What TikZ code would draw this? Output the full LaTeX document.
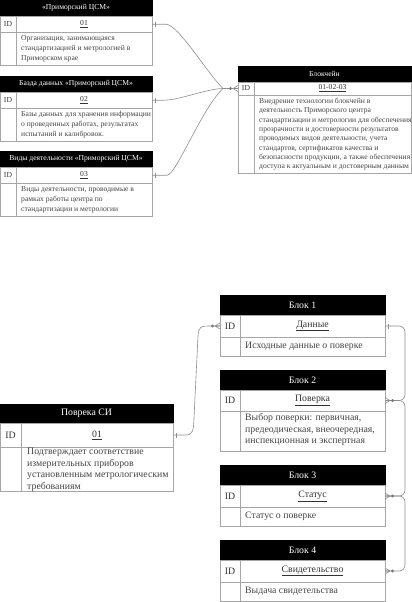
\documentclass[tikz,border=0pt]{standalone}
\usepackage{fontspec}
\setmainfont{Liberation Serif}
\definecolor{bordc}{HTML}{A6A6A6}
\definecolor{linec}{HTML}{8E8E8E}
\definecolor{dotc}{HTML}{7A7A7A}
\definecolor{txtc}{HTML}{333333}
\definecolor{dtxt}{HTML}{444444}
\newcommand\topf{\fontsize{7.6}{10}\selectfont}
\newcommand\topg{\fontsize{7.6}{9.3}\selectfont}
\newcommand\botf{\fontsize{9.8}{11.6}\selectfont}
\newcommand\manyW[1]{\draw[conn] ([xshift=-5]#1) -- ([yshift=3]#1) ([xshift=-5]#1) -- ([yshift=-3]#1) ([xshift=-5]#1) -- (#1); \fill[dotc] ([xshift=-7.5]#1) circle (1.7);}
\newcommand\manyE[1]{\draw[conn] ([xshift=5]#1) -- ([yshift=3]#1) ([xshift=5]#1) -- ([yshift=-3]#1) ([xshift=5]#1) -- (#1); \fill[dotc] ([xshift=7.5]#1) circle (1.7);}
\newcommand\oneE[1]{\draw[conn] ([xshift=3,yshift=2.5]#1) -- ([xshift=3,yshift=-2.5]#1);}
\tikzset{
  hdr/.style={fill=black, draw=black, text=white, inner sep=0, outer sep=0, anchor=north west},
  cell/.style={draw=bordc, line width=0.6pt, inner sep=0, outer sep=0, anchor=north west, text=txtc},
  dsc/.style={inner sep=0, anchor=north west, align=left, text=dtxt},
  conn/.style={draw=linec, line width=0.6pt},
}
\begin{document}
\begin{tikzpicture}[x=1pt,y=-1pt]
\useasboundingbox (0,0) rectangle (412,602);
% ---------- top tables ----------
\node[hdr, font=\topf, minimum width=152, minimum height=16] (t1h) at (0,0) {«Приморский ЦСМ»};
\node[cell, font=\topf, minimum width=16, minimum height=16.5] (t1i) at (t1h.south west) {ID};
\node[cell, font=\topf, minimum width=136, minimum height=16.5] (t1t) at (t1i.north east) {\underline{01}};
\node[cell, minimum width=16, minimum height=33] (t1b) at (t1i.south west) {};
\node[cell, minimum width=136, minimum height=33] (t1d) at (t1b.north east) {};
\node[dsc, font=\topf] (t1x) at ([xshift=5,yshift=-3]t1d.north west) {Организация, занимающаяся\\стандартизацией и метрологией в\\Приморском крае};

\node[hdr, font=\topf, minimum width=152, minimum height=16] (t2h) at (0,76) {Базда данных «Приморский ЦСМ»};
\node[cell, font=\topf, minimum width=16, minimum height=16.5] (t2i) at (t2h.south west) {ID};
\node[cell, font=\topf, minimum width=136, minimum height=16.5] (t2t) at (t2i.north east) {\underline{02}};
\node[cell, minimum width=16, minimum height=33] (t2b) at (t2i.south west) {};
\node[cell, minimum width=136, minimum height=33] (t2d) at (t2b.north east) {};
\node[dsc, font=\topf] (t2x) at ([xshift=5,yshift=-3]t2d.north west) {Базы данных для хранения информации\\о проведенных работах, результатах\\испытаний и калибровок.};

\node[hdr, font=\topf, minimum width=152, minimum height=16] (t3h) at (0,151) {Виды деятельности «Приморский ЦСМ»};
\node[cell, font=\topf, minimum width=16, minimum height=16.5] (t3i) at (t3h.south west) {ID};
\node[cell, font=\topf, minimum width=136, minimum height=16.5] (t3t) at (t3i.north east) {\underline{03}};
\node[cell, minimum width=16, minimum height=33] (t3b) at (t3i.south west) {};
\node[cell, minimum width=136, minimum height=33] (t3d) at (t3b.north east) {};
\node[dsc, font=\topf] (t3x) at ([xshift=5,yshift=-3]t3d.north west) {Виды деятельности, проводимые в\\рамках работы центра по\\стандартизации и метрологии};

\node[hdr, font=\topf, minimum width=173, minimum height=16] (bkh) at (238,66) {Блокчейн};
\node[cell, font=\topf, minimum width=16, minimum height=13] (bki) at (bkh.south west) {ID};
\node[cell, font=\topf, minimum width=157, minimum height=13] (bkt) at (bki.north east) {\underline{01-02-03}};
\node[cell, minimum width=16, minimum height=78] (bkb) at (bki.south west) {};
\node[cell, minimum width=157, minimum height=78] (bkd) at (bkb.north east) {};
\node[dsc, font=\topg] (bkx) at ([xshift=5,yshift=-3]bkd.north west) {Внедрение технологии блокчейн в\\деятельность Приморского центра\\стандартизации и метрологии для обеспечения\\прозрачности и достоверности результатов\\проводимых видов деятельности, учета\\стандартов, сертификатов качества и\\безопасности продукции, а также обеспечения\\доступа к актуальным и достоверным данным};

% ---------- bottom tables ----------
\node[hdr, font=\botf, minimum width=173, minimum height=19] (pvh) at (0,404) {Поврека СИ};
\node[cell, font=\botf, minimum width=21, minimum height=24] (pvi) at (pvh.south west) {ID};
\node[cell, font=\botf, minimum width=152, minimum height=24] (pvt) at (pvi.north east) {\underline{01}};
\node[cell, minimum width=21, minimum height=44] (pvb) at (pvi.south west) {};
\node[cell, minimum width=152, minimum height=44] (pvd) at (pvb.north east) {};
\node[dsc, font=\botf] (pvx) at ([xshift=6,yshift=-1]pvd.north west) {Подтверждает соответствие\\измерительных приборов\\установленным метрологическим\\требованиям};

\node[hdr, font=\botf, minimum width=165, minimum height=20] (b1h) at (220,295) {Блок 1};
\node[cell, font=\botf, minimum width=20, minimum height=22] (b1i) at (b1h.south west) {ID};
\node[cell, font=\botf, minimum width=145, minimum height=22] (b1t) at (b1i.north east) {\underline{Данные}};
\node[cell, minimum width=20, minimum height=19] (b1b) at (b1i.south west) {};
\node[cell, minimum width=145, minimum height=19] (b1d) at (b1b.north east) {};
\node[dsc, font=\botf, anchor=west] (b1x) at ([xshift=5]b1d.west) {Исходные данные о поверке};

\node[hdr, font=\botf, minimum width=165, minimum height=20] (b2h) at (220,370) {Блок 2};
\node[cell, font=\botf, minimum width=20, minimum height=21] (b2i) at (b2h.south west) {ID};
\node[cell, font=\botf, minimum width=145, minimum height=21] (b2t) at (b2i.north east) {\underline{Поверка}};
\node[cell, minimum width=20, minimum height=40] (b2b) at (b2i.south west) {};
\node[cell, minimum width=145, minimum height=40] (b2d) at (b2b.north east) {};
\node[dsc, font=\botf] (b2x) at ([xshift=5,yshift=-2.5]b2d.north west) {Выбор поверки: первичная,\\предеодическая, внеочередная,\\инспекционная и экспертная};

\node[hdr, font=\botf, minimum width=165, minimum height=20] (b3h) at (220,465) {Блок 3};
\node[cell, font=\botf, minimum width=20, minimum height=22] (b3i) at (b3h.south west) {ID};
\node[cell, font=\botf, minimum width=145, minimum height=22] (b3t) at (b3i.north east) {\underline{Статус}};
\node[cell, minimum width=20, minimum height=19] (b3b) at (b3i.south west) {};
\node[cell, minimum width=145, minimum height=19] (b3d) at (b3b.north east) {};
\node[dsc, font=\botf, anchor=west] (b3x) at ([xshift=5]b3d.west) {Статус о поверке};

\node[hdr, font=\botf, minimum width=165, minimum height=20] (b4h) at (220,540) {Блок 4};
\node[cell, font=\botf, minimum width=20, minimum height=22] (b4i) at (b4h.south west) {ID};
\node[cell, font=\botf, minimum width=145, minimum height=22] (b4t) at (b4i.north east) {\underline{Свидетельство}};
\node[cell, minimum width=20, minimum height=19] (b4b) at (b4i.south west) {};
\node[cell, minimum width=145, minimum height=19] (b4d) at (b4b.north east) {};
\node[dsc, font=\botf, anchor=west] (b4x) at ([xshift=5]b4d.west) {Выдача свидетельства};

% ---------- connectors top ----------
\coordinate (jt) at ([xshift=-15]bki.west);
\draw[conn] (t1t.east) -- ++(14,0) .. controls (178,24.25) and (208,74) .. (jt);
\draw[conn] (t2t.east) -- ++(11,0) .. controls (180,100.25) and (205,89) .. (jt);
\draw[conn] (t3t.east) -- ++(15,0) .. controls (176,175.25) and (202,108) .. (jt);
\draw[conn] (jt) -- (bki.west);
\oneE{t1t.east}
\oneE{t2t.east}
\oneE{t3t.east}
\manyW{bki.west}

% ---------- connectors bottom ----------
\draw[conn] (pvt.east) -- ++(13,0) .. controls (193,435) and (193.5,430) .. (194,418) -- (198,336) .. controls (198.5,327) and (201,326) .. (208,326) -- (b1i.west);
\oneE{pvt.east}
\manyW{b1i.west}

\coordinate (vx) at (405,0);
\draw[conn, rounded corners=6] (b1t.east) -- (b1t.east -| vx) -- (b2t.east -| vx) -- (b2t.east);
\draw[conn, rounded corners=6] (b2t.east) -- (b2t.east -| vx) -- (b3t.east -| vx) -- (b3t.east);
\draw[conn, rounded corners=6] (b3t.east) -- (b3t.east -| vx) -- (b4t.east -| vx) -- (b4t.east);
\oneE{b1t.east}
\manyE{b2t.east}
\manyE{b3t.east}
\manyE{b4t.east}
\end{tikzpicture}
\end{document}
